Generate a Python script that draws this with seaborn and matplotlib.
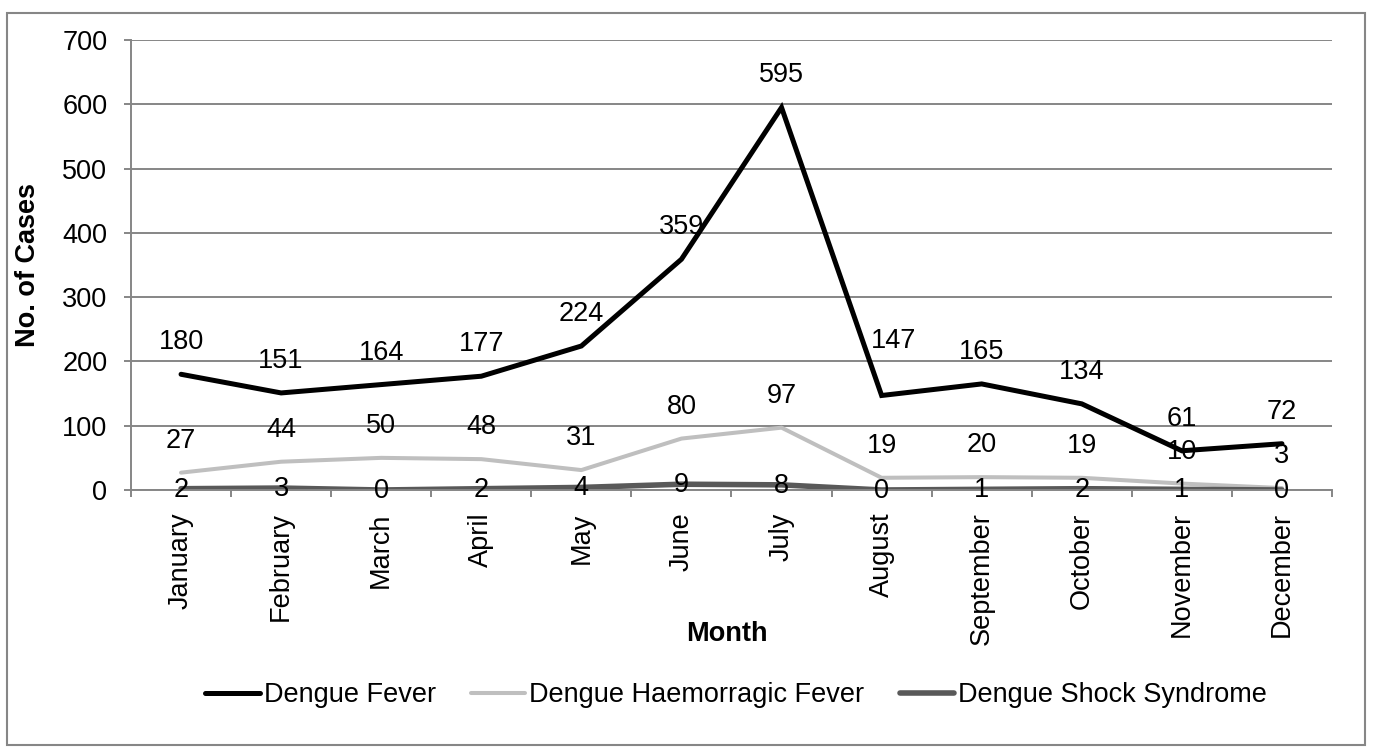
import numpy as np
import pandas as pd
import matplotlib
matplotlib.use("Agg")
import matplotlib.pyplot as plt
from matplotlib.patches import Rectangle
from matplotlib.lines import Line2D
import seaborn as sns

# Monthly dengue cases by type
months = ["January", "February", "March", "April", "May", "June",
          "July", "August", "September", "October", "November", "December"]
dengue_fever = [180, 151, 164, 177, 224, 359, 595, 147, 165, 134, 61, 72]
dengue_haemorrhagic = [27, 44, 50, 48, 31, 80, 97, 19, 20, 19, 10, 3]
dengue_shock = [2, 3, 0, 2, 4, 9, 8, 0, 1, 2, 1, 0]

series_names = ["Dengue Fever", "Dengue Haemorragic Fever", "Dengue Shock Syndrome"]
series_values = [dengue_fever, dengue_haemorrhagic, dengue_shock]
series_colors = ["#000000", "#BFBFBF", "#595959"]
series_widths = [3.6, 2.9, 4.0]

# label offsets in pixels (dx, dy) -- one label was nudged by hand in the original
label_dy = [32, 32, -1]
label_nudge = {("Dengue Fever", 7): (12, 54)}

FS = 19.5

sns.set_theme(style="white")
plt.rcParams["font.family"] = ["Liberation Sans", "DejaVu Sans"]
plt.rcParams["text.color"] = "black"

fig = plt.figure(figsize=(13.73, 7.49), dpi=100)
ax = fig.add_axes([131 / 1373, 1 - 490 / 749, (1332 - 131) / 1373, 450 / 749])

grid_col = "#868686"

for name, vals, col, lw in zip(series_names, series_values, series_colors, series_widths):
    df = pd.DataFrame({"Month": months, "Cases": vals})
    sns.lineplot(data=df, x="Month", y="Cases", color=col, linewidth=lw,
                 sort=False, ax=ax, solid_joinstyle="miter")

# data labels
for name, vals, dy in zip(series_names, series_values, label_dy):
    for i, v in enumerate(vals):
        dx, ddy = label_nudge.get((name, i), (0, dy))
        ax.annotate(str(v), (i, v), xytext=(dx, ddy), textcoords="offset pixels",
                    ha="center", va="center", fontsize=FS, color="black")

ax.set_xlim(-0.5, 11.5)
ax.set_ylim(0, 700)
ax.set_yticks(np.arange(0, 701, 100))
ax.set_xticks(range(len(months)))
ax.set_xticklabels(months, rotation=90, fontsize=FS, va="top")
ax.set_xticks(np.arange(-0.5, 12, 1), minor=True)
ax.tick_params(axis="x", which="major", length=0, pad=16, colors="black")
ax.tick_params(axis="x", which="minor", direction="out", length=5, width=1.4,
               color=grid_col, bottom=True)
ax.tick_params(axis="y", direction="out", length=5, width=1.4, color=grid_col,
               pad=12, labelsize=FS, labelcolor="black", left=True)
ax.set_xlabel("")
ax.set_ylabel("")
ax.yaxis.grid(True, color=grid_col, linewidth=1.4)
ax.set_axisbelow(True)
for side in ["top", "right"]:
    ax.spines[side].set_visible(False)
for side in ["left", "bottom"]:
    ax.spines[side].set_color(grid_col)
    ax.spines[side].set_linewidth(1.4)

fig.text(28 / 1373, 1 - 265 / 749, "No. of Cases", rotation=90, ha="center",
         va="center", fontsize=FS, fontweight="bold", color="black")
fig.text(727 / 1373, 1 - 634 / 749, "Month", ha="center", va="center",
         fontsize=FS, fontweight="bold", color="black")

handles = [Line2D([], [], color=c, linewidth=w) for c, w in zip(series_colors, series_widths)]
fig.legend(handles, series_names, loc="center", bbox_to_anchor=(736 / 1373, 1 - 695 / 749),
           ncol=3, frameon=False, fontsize=FS, handlelength=2.0, handletextpad=0.15,
           columnspacing=1.3, labelcolor="black")

# outer chart frame
fig.patches.append(Rectangle((7 / 1373, 1 - 745 / 749), (1365 - 7) / 1373, (745 - 13) / 749,
                             transform=fig.transFigure, fill=False, edgecolor=grid_col,
                             linewidth=1.5))

fig.savefig("out.png", dpi=100)
